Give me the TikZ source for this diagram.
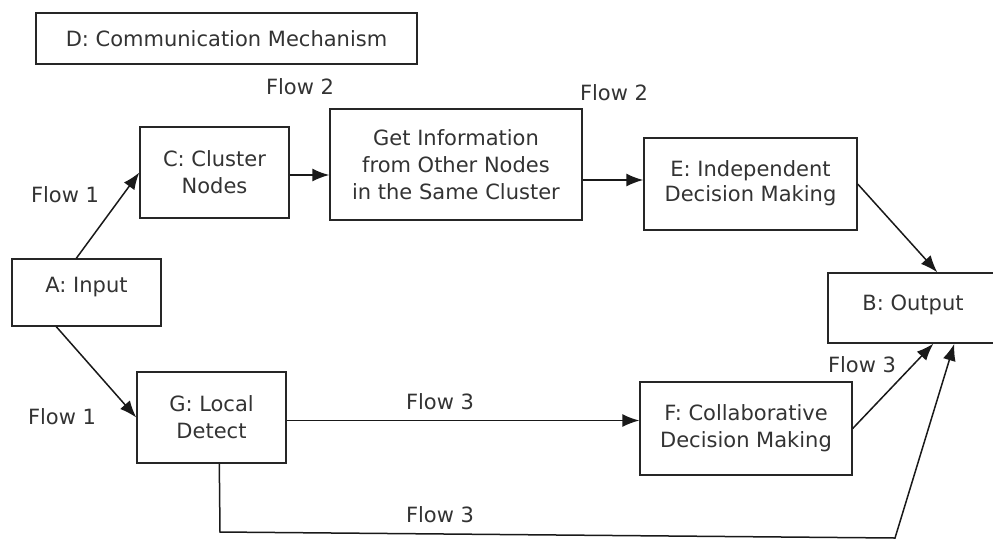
\documentclass[tikz,border=0pt]{standalone}
\usepackage{fontspec}
\setmainfont{DejaVu Sans}
\usetikzlibrary{arrows.meta,calc}
\begin{document}
\begin{tikzpicture}[x=1pt,y=-1pt,
  box/.style={draw=black!85,line width=1.4pt,inner sep=0pt,align=center,text=black!80,
    font=\fontsize{21}{27}\selectfont},
  lbl/.style={inner sep=0pt,text=black!80,font=\fontsize{21}{27}\selectfont},
  conn/.style={draw=black!90,line width=1.5pt,-{Latex[length=17pt,width=13pt]}},
  plain/.style={draw=black!90,line width=1.5pt}]
\useasboundingbox (0,0) rectangle (993,542);
\fill[white] (0,0) rectangle (993,542);
% boxes
\node[box,minimum width=381pt,minimum height=51pt] (D) at (226.5,38.5) {D: Communication Mechanism};
\node[box,minimum width=149pt,minimum height=91pt] (C) at (214.5,172.5) {C: Cluster\\Nodes};
\node[box,minimum width=252pt,minimum height=111pt] (GI) at (456,164.5) {Get Information\\from Other Nodes\\in the Same Cluster};
\node[box,minimum width=213pt,minimum height=92pt] (E) at (750.5,184) {\raisebox{8pt}{\begin{tabular}{@{}c@{}}E: Independent\\[-2pt]Decision Making\end{tabular}}};
\node[box,minimum width=149pt,minimum height=67pt] (A) at (86.5,292.5) {\raisebox{16pt}{A: Input}};
\node[box,minimum width=149pt,minimum height=91pt] (G) at (211.5,417.5) {G: Local\\Detect};
\node[box,minimum width=212pt,minimum height=93pt] (F) at (746,428.5) {F: Collaborative\\Decision Making};
\node[box,minimum width=170pt,minimum height=70pt] (B) at (913,308) {\raisebox{10pt}{B: Output}};
% labels
\node[lbl] (l1) at (65,195) {Flow 1};
\node[lbl] (l2) at (300,87) {Flow 2};
\node[lbl] (l3) at (614,93) {Flow 2};
\node[lbl] (l4) at (62,417) {Flow 1};
\node[lbl] (l5) at (440,402) {Flow 3};
\node[lbl] (l6) at (440,515) {Flow 3};
\node[lbl] (l7) at (862,365) {Flow 3};
% coordinates
\coordinate (gb) at ($(G.south west)+(83,0)$);
\coordinate (c1) at (220,532);
\coordinate (c2) at (895,538);
% connectors
\draw[conn] ($(A.north west)+(65,0)$) -- (C.west);
\draw[conn] ($(A.south west)+(45,0)$) -- (G.west);
\draw[conn] ([yshift=-2.5pt]C.east) -- ([yshift=-2.5pt]C.east -| GI.west);
\draw[conn] ([yshift=4pt]E.west -| GI.east) -- ([yshift=4pt]E.west);
\draw[conn] (E.east) -- ($(B.north west)+(110,0)$);
\draw[conn] ([yshift=-3pt]G.east) -- ([yshift=-3pt]G.east -| F.west);
\draw[conn] (F.east) -- ($(B.south west)+(106,0)$);
\draw[conn] (gb) -- (c1) -- (c2) -- ($(B.south west)+(127,0)$);
\end{tikzpicture}
\end{document}
